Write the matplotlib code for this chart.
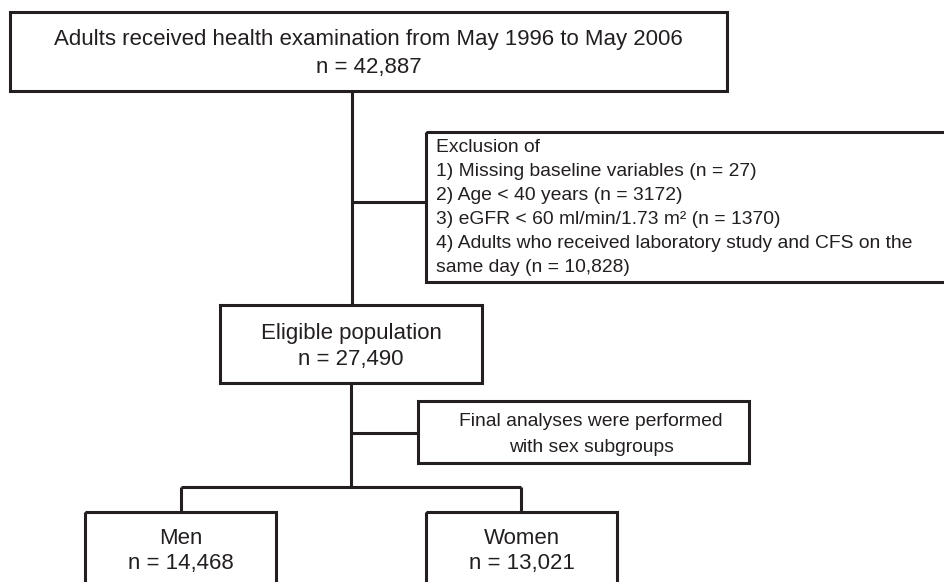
import matplotlib
matplotlib.use("Agg")
import matplotlib.pyplot as plt
from matplotlib.patches import Rectangle

plt.rcParams['font.family'] = ['Liberation Sans', 'DejaVu Sans']

# ---- content ----
top_text = ["Adults received health examination from May 1996 to May 2006", "n = 42,887"]
exclusion_lines = [
    "Exclusion of",
    "1) Missing baseline variables (n = 27)",
    "2) Age < 40 years (n = 3172)",
    "3) eGFR < 60 ml/min/1.73 m\u00b2 (n = 1370)",
    "4) Adults who received laboratory study and CFS on the",
    "same day (n = 10,828)",
]
eligible_text = ["Eligible population", "n = 27,490"]
final_text = ["Final analyses were performed", "with sex subgroups"]
group_labels = ["Men", "Women"]
group_counts = ["n = 14,468", "n = 13,021"]

W, H = 944, 582
fig = plt.figure(figsize=(W / 100, H / 100), dpi=100)
ax = fig.add_axes([0, 0, 1, 1])
ax.set_xlim(0, W)
ax.set_ylim(H, 0)
ax.axis('off')

col = '#231f20'
lw = 2.2

def box(x0, y0, x1, y1):
    ax.add_patch(Rectangle((x0, y0), x1 - x0, y1 - y0, fill=False,
                           edgecolor=col, linewidth=lw, clip_on=True))

def line(xs, ys):
    ax.plot(xs, ys, color=col, linewidth=lw, solid_capstyle='butt')

# boxes
box(10, 12, 727, 91)
box(426, 132, 960, 282)
box(220, 305, 482, 383)
box(418, 401, 749, 463)
box(85, 512, 276, 600)
box(426, 512, 617, 600)

# connectors
line([352, 352], [91, 305])
line([352, 426], [202, 202])
line([351, 351], [383, 487])
line([351, 418], [433, 433])
line([181, 521], [487, 487])
line([181, 181], [487, 512])
line([521, 521], [487, 512])

tc = '#231f20'
big = 16
# top
ax.text(368.5, 40, top_text[0], ha='center', va='center', fontsize=big, color=tc)
ax.text(368.5, 68, top_text[1], ha='center', va='center', fontsize=big, color=tc)
# exclusion
for i, s in enumerate(exclusion_lines):
    ax.text(436, 148 + 24 * i, s, ha='left', va='center', fontsize=13.9, color=tc)
# eligible
ax.text(351, 333, eligible_text[0], ha='center', va='center', fontsize=big, color=tc)
ax.text(351, 360, eligible_text[1], ha='center', va='center', fontsize=big, color=tc)
# final
ax.text(591, 421, final_text[0], ha='center', va='center', fontsize=13.9, color=tc)
ax.text(591, 447, final_text[1], ha='center', va='center', fontsize=13.9, color=tc)
# groups
for cx, lab, cnt in zip([180.5, 521.5], group_labels, group_counts):
    ax.text(cx, 538, lab, ha='center', va='center', fontsize=big, color=tc)
    ax.text(cx, 564, cnt, ha='center', va='center', fontsize=big, color=tc)

fig.savefig('out.png', dpi=100)
